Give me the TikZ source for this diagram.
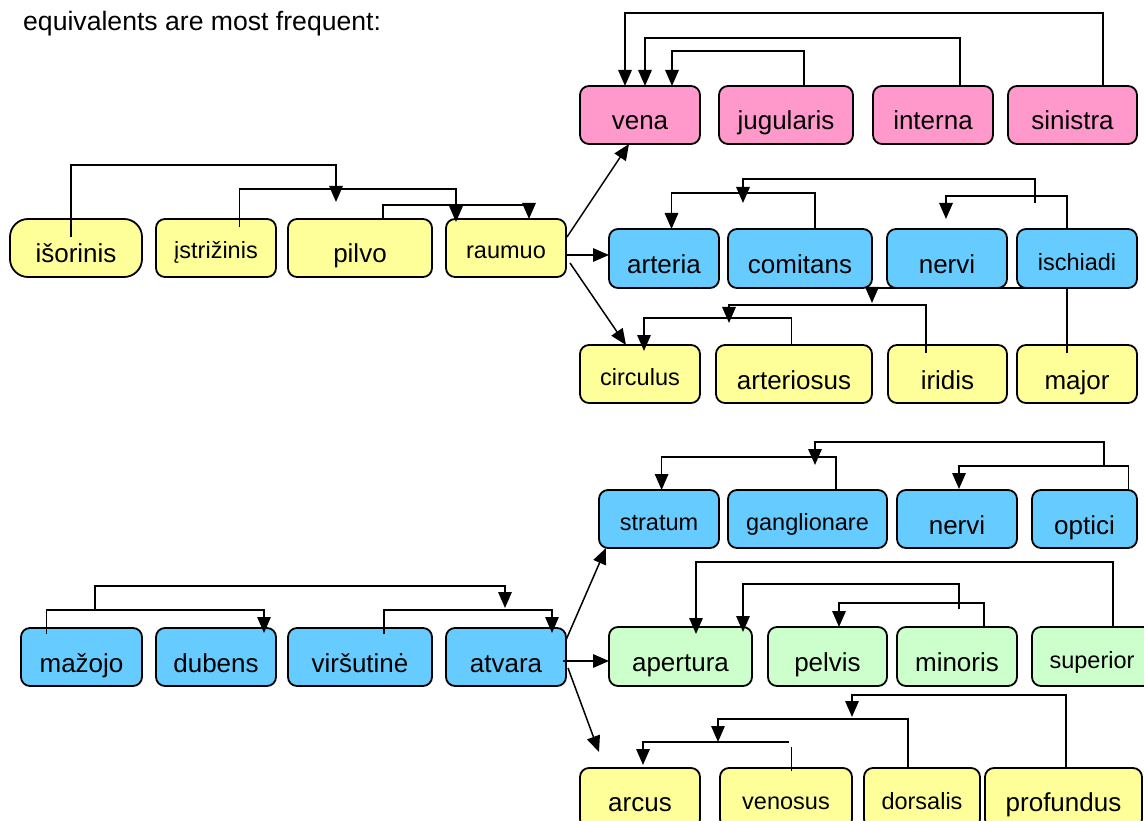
\documentclass[tikz,border=0pt]{standalone}
\usepackage{fontspec}
\setmainfont{Liberation Sans}
\usetikzlibrary{arrows.meta,calc}
\definecolor{cpink}{HTML}{FF99CC}
\definecolor{cyellow}{HTML}{FFFF99}
\definecolor{cblue}{HTML}{66CCFF}
\definecolor{cgreen}{HTML}{CCFFCC}
\newcommand\mkbox[7]{\node[#6, minimum width={#4-#2}, minimum height={#5-#3}] (#1) at ({(#2+#4)/2},{(#3+#5)/2}) {#7};}
\tikzset{
  box/.style={draw, line width=1.8pt, rounded corners=9pt, inner sep=0pt, outer sep=0pt},
  big/.style={box, font=\fontsize{26}{30}\selectfont, text height=31pt, text depth=1pt},
  small/.style={box, font=\fontsize{23.5}{28}\selectfont, text height=23pt, text depth=1pt},
  conn/.style={line width=1.5pt},
  arr/.style={conn, -{Triangle[length=16pt,width=13.5pt]}}
}
\begin{document}
\begin{tikzpicture}[x=1pt,y=-1pt]
\clip (0,0) rectangle (1144,821);
\node[anchor=base west, font=\fontsize{26.6}{30}\selectfont, inner sep=0pt] (head) at (23,31) {equivalents are most frequent:};
% top pink row
\mkbox{vena}{580}{86}{700}{144}{big,fill=cpink}{vena}
\mkbox{jugularis}{719}{86}{853}{144}{big,fill=cpink}{jugularis}
\mkbox{interna}{873}{86}{993}{144}{big,fill=cpink}{interna}
\mkbox{sinistra}{1008}{86}{1137}{144}{big,fill=cpink}{sinistra}
% left yellow row
\mkbox{isorinis}{10}{219}{142}{277}{big,fill=cyellow,rounded corners=18pt}{išorinis}
\mkbox{istrizinis}{156}{219}{276}{277}{small,fill=cyellow}{įstrižinis}
\mkbox{pilvo}{288}{219}{432}{277}{big,fill=cyellow}{pilvo}
\mkbox{raumuo}{446}{219}{566}{277}{small,fill=cyellow}{raumuo}
% blue row 1
\mkbox{arteria}{609}{229}{719}{288}{big,fill=cblue}{arteria}
\mkbox{comitans}{728}{229}{872}{288}{big,fill=cblue}{comitans}
\mkbox{nervia}{887}{229}{1007}{288}{big,fill=cblue}{nervi}
\mkbox{ischiadi}{1017}{229}{1137}{288}{small,fill=cblue,text height=26pt}{ischiadi}
% yellow row 2
\mkbox{circulus}{580}{345}{700}{403}{small,fill=cyellow}{circulus}
\mkbox{arteriosus}{716}{345}{872}{403}{big,fill=cyellow}{arteriosus}
\mkbox{iridis}{888}{345}{1007}{403}{big,fill=cyellow}{iridis}
\mkbox{major}{1017}{345}{1137}{403}{big,fill=cyellow}{major}
% blue row 3
\mkbox{stratum}{599}{490}{719}{548}{small,fill=cblue}{stratum}
\mkbox{ganglionare}{728}{490}{887}{548}{small,fill=cblue}{ganglionare}
\mkbox{nervib}{897}{490}{1017}{548}{big,fill=cblue}{nervi}
\mkbox{optici}{1032}{490}{1137}{548}{big,fill=cblue}{optici}
% left blue row
\mkbox{mazojo}{21}{628}{142}{686}{big,fill=cblue}{mažojo}
\mkbox{dubens}{156}{628}{276}{686}{big,fill=cblue}{dubens}
\mkbox{virsutine}{288}{628}{432}{686}{big,fill=cblue}{viršutinė}
\mkbox{atvara}{446}{628}{566}{686}{big,fill=cblue}{atvara}
% green row
\mkbox{apertura}{609}{627}{752}{686}{big,fill=cgreen}{apertura}
\mkbox{pelvis}{768}{627}{887}{686}{big,fill=cgreen}{pelvis}
\mkbox{minoris}{897}{627}{1017}{686}{big,fill=cgreen}{minoris}
\mkbox{superior}{1032}{627}{1152}{686}{small,fill=cgreen,text height=25pt}{superior}
% bottom yellow row
\mkbox{arcus}{580}{768}{700}{828}{big,fill=cyellow,text height=28pt}{arcus}
\mkbox{venosus}{720}{768}{852}{828}{small,fill=cyellow}{venosus}
\mkbox{dorsalis}{864}{768}{980}{828}{small,fill=cyellow}{dorsalis}
\mkbox{profundus}{985}{768}{1142}{828}{big,fill=cyellow,text height=28pt}{profundus}
% free ends
\coordinate (t1) at (336,202);
\coordinate (t2) at (946,219);
\coordinate (s2) at (1035,203);
\coordinate (t3) at (743,203);
\coordinate (t4) at (872,303);
\coordinate (t5) at (729,323);
\coordinate (s6) at (1104,465);
\coordinate (t6) at (815,465);
\coordinate (t7) at (959,489);
\coordinate (s8) at (95,610);
\coordinate (t8) at (505,608);
\coordinate (s9) at (959,609);
\coordinate (t10) at (852,717);
\coordinate (t11) at (718,742);
\coordinate (s12) at (789,742);
\coordinate (t13) at (599,752);
% top connectors
\draw[arr] (1103,0 |- sinistra.north) -- (1103,13) -- (625,13) -- (625,0 |- vena.north);
\draw[arr] (960,0 |- interna.north) -- (960,38) -- (645,38) -- (645,0 |- vena.north);
\draw[arr] (804,0 |- jugularis.north) -- (804,51) -- (672,51) -- (672,0 |- vena.north);
% left yellow connectors
\draw[arr] ($(71,0 |- isorinis.north)+(0,18)$) -- (71,165) -- (336,165) -- (t1);
\draw[arr] ($(239.5,0 |- istrizinis.north)+(0,8)$) -- (239.5,189) -- (456,189) -- ($(456,0 |- raumuo.north)+(0,3)$);
\draw[arr] (383,0 |- pilvo.north) -- (383,205) -- (529,205) -- (529,0 |- raumuo.north);
% raumuo outputs
\draw[arr] ($(raumuo.east)+(1,-11)$) -- (629,0 |- vena.south);
\draw[arr] (raumuo.east |- 0,255) -- (arteria.west |- 0,255);
\draw[arr] ($(raumuo.east)+(4,15)$) -- (626,0 |- circulus.north);
% blue row 1 connectors
\draw[arr] (815,0 |- comitans.north) -- (815,193) -- (671.5,193) -- (671.5,0 |- arteria.north);
\draw[arr] (1067,0 |- ischiadi.north) -- (1067,196) -- (946,196) -- (t2);
\draw[arr] (s2) -- (1035,179) -- (743,179) -- (t3);
% yellow row 2 connectors
\draw[arr] ($(1067,0 |- major.north)+(0,8)$) -- (1067,288) -- (872,288) -- (t4);
\draw[arr] ($(926,0 |- iridis.north)+(0,8)$) -- (926,305) -- (729,305) -- (t5);
\draw[arr] (791.6,0 |- arteriosus.north) -- (791.6,318) -- (644,318) -- ($(644,0 |- circulus.north)+(0,6)$);
% blue row 3 connectors
\draw[arr] (s6) -- (1104,442) -- (815,442) -- (t6);
\draw[arr] (836,0 |- ganglionare.north) -- (836,457) -- (661.6,457) -- (661.6,0 |- stratum.north);
\draw[arr] (1128.6,0 |- optici.north) -- (1128.6,466) -- (959,466) -- (t7);
% left blue connectors
\draw[arr] ($(46.7,0 |- mazojo.north)+(0,6)$) -- (46.7,610) -- (264,610) -- ($(264,0 |- dubens.north)+(0,5)$);
\draw[arr] (s8) -- (95,586) -- (505,586) -- (t8);
\draw[arr] ($(384,0 |- virsutine.north)+(0,6)$) -- (384,610) -- (552,610) -- ($(552,0 |- atvara.north)+(0,5)$);
% atvara outputs
\draw[arr] ($(atvara.east)+(0,-17)$) -- (606,0 |- stratum.south);
\draw[arr] ($(atvara.east)+(-3,4)$) -- (apertura.west |- 0,661);
\draw[arr] ($(atvara.east)+(2,11)$) -- (t13);
% green connectors
\draw[arr] (1113,0 |- superior.north) -- (1113,562) -- (696,562) -- ($(696,0 |- apertura.north)+(0,7)$);
\draw[arr] (s9) -- (959,584) -- (743,584) -- ($(743,0 |- apertura.north)+(0,5)$);
\draw[arr] (984,0 |- minoris.north) -- (984,603) -- (839,603) -- (839,0 |- pelvis.north);
% bottom yellow connectors
\draw[arr] (1066,0 |- profundus.north) -- (1066,695) -- (852,695) -- (t10);
\draw[arr] (908,0 |- dorsalis.north) -- (908,719) -- (718,719) -- (t11);
\draw[arr] (s12) -- (643,742) -- ($(643,0 |- arcus.north)+(0,-3)$);
\draw[conn] ($(791.6,0 |- venosus.north)+(0,3)$) -- (791.6,747);
\end{tikzpicture}
\end{document}
